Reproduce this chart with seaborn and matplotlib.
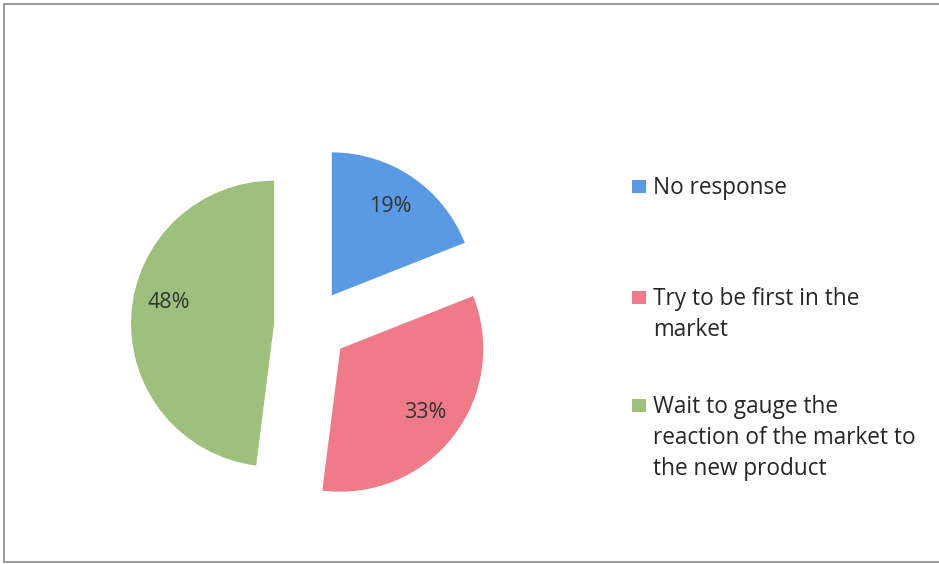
import matplotlib
matplotlib.use("Agg")
import matplotlib.pyplot as plt
import seaborn as sns
from matplotlib.lines import Line2D
from matplotlib.patches import Rectangle

sns.set_theme(style="white")
plt.rcParams["font.family"] = ["Open Sans", "DejaVu Sans"]

# Survey responses
categories = ["No response", "Try to be first in the\nmarket",
              "Wait to gauge the\nreaction of the market to\nthe new product"]
shares = [19, 33, 48]
pct_labels = ["19%", "33%", "48%"]
colors = ["#5A9AE4", "#EF7B88", "#9DC17C"]

W, H = 939, 564
fig = plt.figure(figsize=(W / 100, H / 100), dpi=100)
ax = fig.add_axes([0, 0, 1, 1])

# axes units are pixels, so the explode offset is given in the same units
wedges, texts = ax.pie(
    shares,
    colors=colors,
    startangle=90,
    counterclock=False,
    explode=[37, 37, 37],
    radius=143,
    center=(311, H - 326),
    labels=None,
    wedgeprops=dict(linewidth=0),
)

# percentage labels placed inside each wedge
label_pos = [(390, H - 207), (425, H - 412), (169, H - 303)]
for (x, y), t in zip(label_pos, pct_labels):
    ax.text(x, y, t, ha="center", va="center", fontsize=15.5, color="#333333")

ax.set_xlim(0, W)
ax.set_ylim(0, H)
ax.set_aspect("equal")
ax.axis("off")

# legend: square marker beside the first line of each label
legend_rows = [186, 297, 405]
for y, lab, c in zip(legend_rows, categories, colors):
    ax.add_patch(Rectangle((632, H - y - 6.5), 14, 13, color=c, lw=0))
    ax.text(653, H - y + 10, lab, ha="left", va="top", fontsize=16.3,
            color="#262626", linespacing=1.38)

# thin frame around the chart area
frame_kw = dict(color="#8a8a8a", lw=1.2)
ax.add_line(Line2D([4, W], [H - 4, H - 4], **frame_kw))
ax.add_line(Line2D([4, 4], [H - 4, 2], **frame_kw))
ax.add_line(Line2D([4, W], [2, 2], **frame_kw))

fig.savefig("out.png", dpi=100)
